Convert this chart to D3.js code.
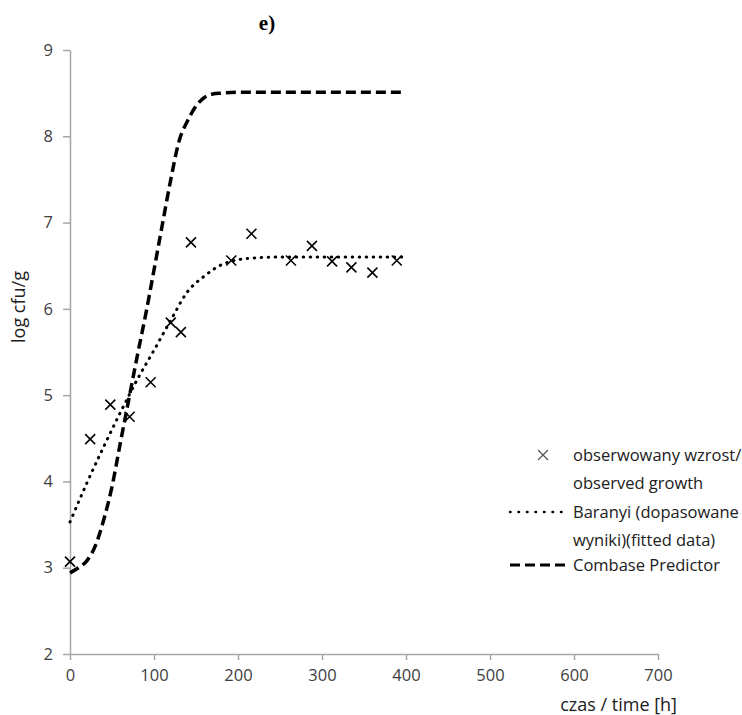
<!DOCTYPE html>
<html>
<head>
<meta charset="utf-8">
<script src="https://cdn.jsdelivr.net/npm/d3@7"></script>
<style>
  body { margin: 0; background: #fff; }
  svg { display: block; }
</style>
</head>
<body>
<script>
// observed growth (time [h], log cfu/g)
const obsTime = [0, 24, 48, 71, 96, 120, 132, 144, 192, 216, 263, 288, 312, 335, 360, 389];
const obsLog  = [3.07, 4.49, 4.89, 4.75, 5.15, 5.84, 5.73, 6.77, 6.56, 6.87, 6.56, 6.73, 6.55, 6.48, 6.42, 6.56];

// Baranyi fitted curve
const barTime = [0, 20, 40, 60, 80, 100, 120, 140, 160, 180, 200, 220, 250, 300, 350, 395];
const barLog  = [3.53, 3.98, 4.4, 4.8, 5.18, 5.52, 5.87, 6.2, 6.38, 6.51, 6.57, 6.59, 6.6, 6.6, 6.6, 6.6];

// Combase Predictor curve
const combTime = [0, 10, 20, 30, 40, 50, 60, 70, 80, 90, 100, 110, 120, 130, 140, 150, 160, 170, 180, 200, 250, 300, 350, 395];
const combLog  = [2.94, 3.0, 3.08, 3.25, 3.55, 3.94, 4.45, 4.95, 5.45, 5.93, 6.45, 6.98, 7.5, 7.95, 8.18, 8.35, 8.45, 8.49, 8.5, 8.51, 8.51, 8.51, 8.51, 8.51];

const xTicks = [0, 100, 200, 300, 400, 500, 600, 700];
const yTicks = [2, 3, 4, 5, 6, 7, 8, 9];

const legendLabels = [
  ['obserwowany wzrost/', 'observed growth'],
  ['Baranyi (dopasowane', 'wyniki)(fitted data)'],
  ['Combase Predictor']
];

const width = 742, height = 715;
const margin = {top: 50, right: 84, bottom: 61, left: 70};

const svg = d3.select('body').append('svg')
  .attr('width', width)
  .attr('height', height);

const x = d3.scaleLinear().domain([0, 700]).range([margin.left, width - margin.right]);
const y = d3.scaleLinear().domain([2, 9]).range([height - margin.bottom, margin.top]);

const font = '"Open Sans", sans-serif';
const axisColor = '#a6a6a6';
const textColor = '#404040';

// title
svg.append('text')
  .attr('x', 267).attr('y', 30)
  .attr('text-anchor', 'middle')
  .attr('font-family', '"Liberation Serif", "Times New Roman", serif')
  .attr('font-weight', 'bold')
  .attr('font-size', 21)
  .text('e)');

// axes
const xAxis = svg.append('g')
  .attr('transform', `translate(0,${y(2)})`)
  .call(d3.axisBottom(x).tickValues(xTicks).tickSize(6).tickSizeOuter(0).tickPadding(9));
const yAxis = svg.append('g')
  .attr('transform', `translate(${x(0)},0)`)
  .call(d3.axisLeft(y).tickValues(yTicks).tickFormat(d3.format('d')).tickSize(7).tickSizeOuter(0).tickPadding(10));

[xAxis, yAxis].forEach(a => {
  a.select('.domain').attr('stroke', axisColor).attr('stroke-width', 1.5);
  a.selectAll('.tick line').attr('stroke', axisColor).attr('stroke-width', 1.5);
  a.selectAll('.tick text')
    .attr('fill', textColor)
    .attr('font-family', font)
    .attr('font-size', 16.5);
});

// axis titles
svg.append('text')
  .attr('transform', `translate(25,${307}) rotate(-90)`)
  .attr('text-anchor', 'middle')
  .attr('font-family', font)
  .attr('font-size', 18)
  .attr('fill', '#202020')
  .text('log cfu/g');

svg.append('text')
  .attr('x', 677).attr('y', 711)
  .attr('text-anchor', 'end')
  .attr('font-family', font)
  .attr('font-size', 18)
  .attr('fill', '#202020')
  .text('czas / time [h]');

// lines
const line = d3.line()
  .x(d => x(d[0]))
  .y(d => y(d[1]))
  .curve(d3.curveMonotoneX);

svg.append('path')
  .datum(combTime.map((t, i) => [t, combLog[i]]))
  .attr('d', line)
  .attr('fill', 'none')
  .attr('stroke', '#000')
  .attr('stroke-width', 3.5)
  .attr('stroke-dasharray', '10,5');

svg.append('path')
  .datum(barTime.map((t, i) => [t, barLog[i]]))
  .attr('d', line)
  .attr('fill', 'none')
  .attr('stroke', '#000')
  .attr('stroke-width', 3)
  .attr('stroke-linecap', 'round')
  .attr('stroke-dasharray', '0.5,6.5');

// observed markers
const s = 5;
const crossPath = (cx, cy) => `M${cx - s},${cy - s}L${cx + s},${cy + s}M${cx - s},${cy + s}L${cx + s},${cy - s}`;
svg.append('g')
  .selectAll('path')
  .data(obsTime.map((t, i) => [t, obsLog[i]]))
  .join('path')
  .attr('d', d => crossPath(x(d[0]), y(d[1])))
  .attr('stroke', '#000')
  .attr('stroke-width', 1.6)
  .attr('fill', 'none');

// legend
const lg = svg.append('g').attr('font-family', font).attr('font-size', 16.5).attr('fill', '#202020');
const lx = 510, lx2 = 568, tx = 573;
const rowY = [455, 512, 565];

lg.append('path')
  .attr('d', crossPath(543, rowY[0]))
  .attr('stroke', '#555')
  .attr('stroke-width', 1.2);

lg.append('line')
  .attr('x1', lx).attr('x2', lx2 - 2).attr('y1', rowY[1]).attr('y2', rowY[1])
  .attr('stroke', '#000').attr('stroke-width', 2.5)
  .attr('stroke-linecap', 'round')
  .attr('stroke-dasharray', '0.5,8');

lg.append('line')
  .attr('x1', lx).attr('x2', lx2).attr('y1', rowY[2]).attr('y2', rowY[2])
  .attr('stroke', '#000').attr('stroke-width', 3)
  .attr('stroke-dasharray', '10,5');

legendLabels.forEach((lines, i) => {
  lines.forEach((t, j) => {
    lg.append('text')
      .attr('x', tx)
      .attr('y', rowY[i] + 6 + j * 28)
      .text(t);
  });
});
</script>
</body>
</html>
